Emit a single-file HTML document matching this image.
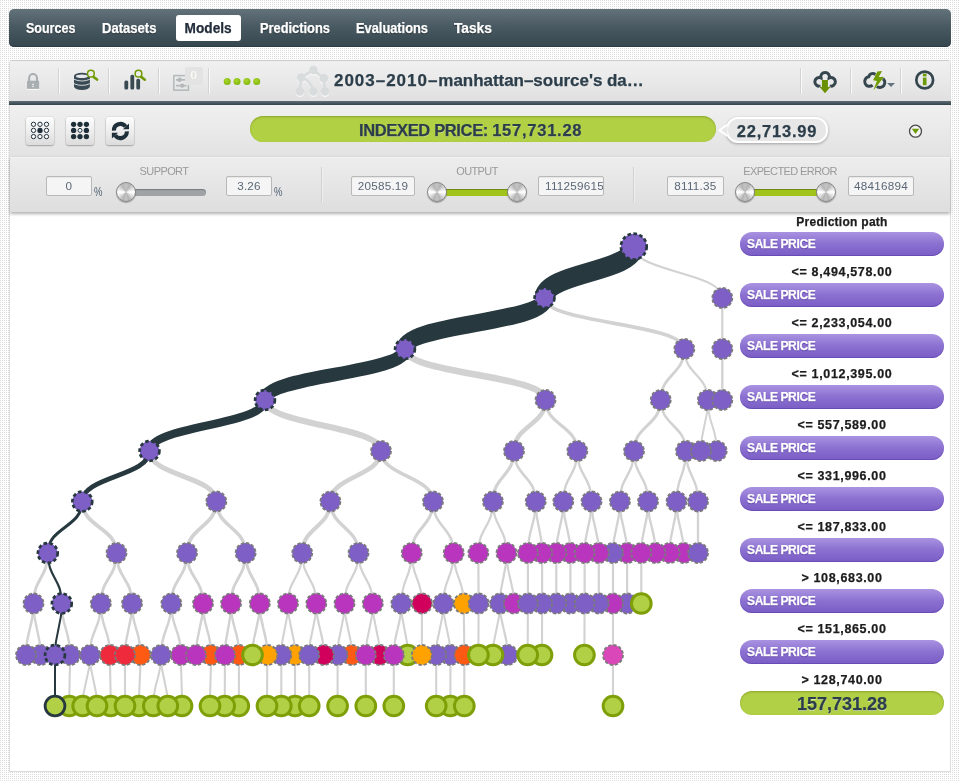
<!DOCTYPE html>
<html lang="en">
<head>
<meta charset="utf-8">
<title>2003-2010-manhattan-source's dataset model</title>
<style>
html,body{margin:0;padding:0}
body{width:959px;height:781px;overflow:hidden;position:relative;
  font-family:"Liberation Sans","DejaVu Sans",sans-serif;color:#2c3e4a;
  background-color:#fff;
  background-image:conic-gradient(from 270deg at 1px 1px,#dcdcdc 0 25%,#fff 0 100%);
  background-size:2px 2px;}
.abs{position:absolute}
#nav{position:absolute;left:9px;top:9px;width:942px;height:38px;border-radius:5px;
  background:linear-gradient(#63727a 0%,#4a5a63 45%,#36464f 100%);box-shadow:inset 0 -1px 0 #2b3b45}
#nav span{position:absolute;transform-origin:0 50%;top:11px;font-weight:bold;font-size:14px;color:#fff;line-height:16px;white-space:nowrap;text-shadow:0 1px 1px rgba(0,0,0,.5)}
#nav .act{top:6px;left:167px;width:65px;height:26px;background:#fff;border-radius:3px;color:#232d3b;text-shadow:none;text-align:center;line-height:26px}
#panel{position:absolute;left:9px;top:60px;width:940px;height:710px;background:#fff;border:1px solid #dddddd;border-top-color:#cbcbcb;border-radius:4px 4px 0 0}
#bar1{position:absolute;left:0;top:0;width:940px;height:40px;background:linear-gradient(#f0f0f0,#e9e9e9 50%,#e0e0e0);border-radius:3px 3px 0 0}
#line{position:absolute;left:-1px;top:40px;width:942px;height:4px;background:linear-gradient(#5f6e76,#33434c)}
#bar2{position:absolute;left:0;top:44px;width:940px;height:52px;background:linear-gradient(#f0f0f0,#e2e2e2)}
#bar3{position:absolute;left:0;top:96px;width:940px;height:55px;background:linear-gradient(#ededed,#dedede);box-shadow:inset 0 1px 0 #f3f3f3,0 -1px 0 #d9d9d9,0 2px 3px rgba(0,0,0,.3)}
.sep{position:absolute;top:7px;width:1px;height:26px;background:#d2d2d2;box-shadow:1px 0 0 #fafafa}
#title{position:absolute;left:324px;top:9px;font-size:17px;font-weight:bold;line-height:21px;color:#2c3e4a;white-space:nowrap;letter-spacing:0.28px}
.btn{position:absolute;top:12px;width:28px;height:28px;border-radius:3px;background:linear-gradient(#fdfdfd,#ececec 55%,#dcdcdc);box-shadow:0 0 0 0.6px rgba(0,0,0,.1),0 1px 1.5px rgba(0,0,0,.26)}
#gpill{position:absolute;left:240px;top:11px;width:466px;height:26px;border-radius:13px;background:#b1d044;box-shadow:inset 0 1px 2px rgba(90,110,10,.45);font-weight:bold;font-size:16.5px;letter-spacing:0.1px;line-height:28px;color:#2c3e4a;text-shadow:0 1px 0 rgba(255,255,255,.35);text-indent:109px;white-space:nowrap}
#bubble{position:absolute;left:716px;top:12px;width:98px;height:22px;border:2px solid #fff;border-radius:12px;background:#e7e7e7;box-shadow:0 1px 3px rgba(0,0,0,.3);text-align:center;font-weight:bold;font-size:16.5px;letter-spacing:0.8px;line-height:24.5px;color:#2c3e4a;white-space:nowrap}
.lab{position:absolute;top:7px;font-size:11px;letter-spacing:-0.6px;line-height:14px;color:#9a9a9a;white-space:nowrap;text-align:center}
.inp{position:absolute;top:19px;height:17.5px;border:1px solid #b9b9b9;border-radius:2px;background:#f5f5f5;box-shadow:inset 0 1px 1px rgba(0,0,0,.06);font-size:11.7px;line-height:17.5px;letter-spacing:0.25px;color:#5a6776;text-align:center;overflow:hidden;white-space:nowrap}
.pct{position:absolute;top:28px;font-size:12.5px;color:#4f6073;line-height:14px;transform:scaleX(.76);transform-origin:0 50%}
.track{position:absolute;top:32px;height:7px;border-radius:4px;background:#9fa3a6;box-shadow:inset 0 1px 1px rgba(0,0,0,.25)}
.track.g{background:#a0c41c;box-shadow:inset 0 1px 0 rgba(70,90,10,.55)}
.knob{position:absolute;top:25px;width:20px;height:20px;border-radius:50%;box-sizing:border-box;border:1px solid #858585;background:conic-gradient(from 0deg,#c4c4c4,#b4b4b4 8%,#fdfdfd 24%,#fdfdfd 27%,#b2b2b2 44%,#c6c6c6 50%,#b2b2b2 56%,#fdfdfd 73%,#fdfdfd 76%,#b4b4b4 92%,#c4c4c4);box-shadow:0 1px 1px rgba(0,0,0,.3)}
#side{position:absolute;left:730px;top:151px;width:204px}
#side .h{position:absolute;left:0;width:204px;text-align:center;font-weight:bold;font-size:12.5px;letter-spacing:0.65px;line-height:15px;color:#1c1c1c;white-space:nowrap}
#side .p{position:absolute;left:0;width:204px;height:24px;border-radius:12px;background:linear-gradient(#a993e1,#8b70d1 50%,#7a5dc5);box-shadow:inset 0 -1px 0 rgba(90,60,170,.55);color:#fff;font-weight:bold;font-size:12px;letter-spacing:-0.37px;line-height:25px;text-indent:7px;text-shadow:0 1px 1px rgba(70,40,140,.7)}
#side .g{position:absolute;left:0;width:204px;height:24px;border-radius:12px;background:#b2d045;box-shadow:inset 0 1px 2px rgba(90,110,10,.45);text-align:center;font-weight:bold;font-size:18px;line-height:27px;color:#2c3e4a;text-shadow:0 1px 0 rgba(255,255,255,.6)}
svg.tree{position:absolute;left:-10px;top:151px}
svg.ic{position:absolute;overflow:visible}
.vsep{position:absolute;top:10px;width:1px;height:35px;background:#d0d0d0;box-shadow:1px 0 0 #f0f0f0}
#badge{position:absolute;z-index:5;left:175px;top:6px;width:18px;height:17.5px;border-radius:2px;background:#e3e3e3;color:#fcfcf4;font-family:"Liberation Serif",serif;font-size:12.5px;line-height:16.5px;text-align:center;text-indent:-1px;-webkit-text-stroke:.2px #fcfcf4}
svg#icons{position:absolute;left:0;top:0;width:959px;height:781px;pointer-events:none}
#side .h,#side .p,#side .g,#gpill,#bubble,#title,#nav span{-webkit-text-stroke:.25px currentColor}

</style>
</head>
<body>
<div id="nav">
  <span style="left:17px;transform:scaleX(.893)">Sources</span>
  <span style="left:93px;transform:scaleX(.933)">Datasets</span>
  <span class="act"><b style="display:inline-block;transform:scaleX(.975)">Models</b></span>
  <span style="left:251px;transform:scaleX(.917)">Predictions</span>
  <span style="left:347px;transform:scaleX(.916)">Evaluations</span>
  <span style="left:445px;transform:scaleX(.98)">Tasks</span>
</div>
<div id="panel">
  <div id="bar1">
    <div class="sep" style="left:48px"></div>
    <div class="sep" style="left:98px"></div>
    <div class="sep" style="left:148px"></div>
    <div class="sep" style="left:198px"></div>
    <div class="sep" style="left:790px"></div>
    <div class="sep" style="left:840px"></div>
    <div class="sep" style="left:890px"></div>
    <div id="badge">0</div>
    <div id="title"><span style="letter-spacing:.98px">2003–2010–</span><span style="letter-spacing:-.04px">manhattan–source's da…</span></div>
  </div>
  <div id="line"></div>
  <div id="bar2">
    <div class="btn" style="left:16px"></div>
    <div class="btn" style="left:56px"></div>
    <div class="btn" style="left:96px"></div>
    <div id="gpill"><span style="letter-spacing:-.35px">INDEXED PRICE: </span><span style="letter-spacing:.75px">157,731.28</span></div>
    <div id="bubble">22,713.99</div>
  </div>
  <div id="bar3">
    <div class="inp" style="left:36px;width:44px">0</div><div class="pct" style="left:84px">%</div>
    <div class="lab" style="left:104px;width:100px">SUPPORT</div>
    <div class="track" style="left:116px;width:80px"></div>
    <div class="knob" style="left:106px"></div>
    <div class="inp" style="left:216px;width:44px">3.26</div><div class="pct" style="left:264px">%</div>
    <div class="vsep" style="left:311px"></div>
    <div class="inp" style="left:341px;width:62px">20585.19</div>
    <div class="lab" style="left:417px;width:100px">OUTPUT</div>
    <div class="track g" style="left:426px;width:81px"></div>
    <div class="knob" style="left:416.5px"></div>
    <div class="knob" style="left:497px"></div>
    <div class="inp" style="left:528px;width:64px;text-align:left;text-indent:6px">111259615.27</div>
    <div class="vsep" style="left:623px"></div>
    <div class="inp" style="left:657px;width:55px">8111.35</div>
    <div class="lab" style="left:730px;width:100px">EXPECTED ERROR</div>
    <div class="track g" style="left:735px;width:81px"></div>
    <div class="knob" style="left:725px"></div>
    <div class="knob" style="left:806px"></div>
    <div class="inp" style="left:838px;width:64px">48416894</div>
  </div>
  <svg class="tree" width="740" height="560" viewBox="0 212 740 560">
<g fill="none" stroke="#d2d2d2" stroke-linecap="butt">
<path d="M633.8,246.6C633.8,272.2 722.3,272.2 722.3,297.9" stroke-width="2.1"/>
<path d="M544.5,297.9C544.5,323.4 684.3,323.4 684.3,349.0" stroke-width="3.6"/>
<path d="M722.3,297.9C722.3,323.4 722.3,323.4 722.3,349.0" stroke-width="2.2"/>
<path d="M405.0,349.0C405.0,374.5 545.5,374.5 545.5,400.0" stroke-width="6.5"/>
<path d="M684.3,349.0C684.3,374.5 660.7,374.5 660.7,400.0" stroke-width="2.8"/>
<path d="M684.3,349.0C684.3,374.5 707.8,374.5 707.8,400.0" stroke-width="2.2"/>
<path d="M722.3,349.0C722.3,374.5 722.3,374.5 722.3,400.0" stroke-width="2.4"/>
<path d="M265.0,400.0C265.0,425.5 381.0,425.5 381.0,451.0" stroke-width="6"/>
<path d="M545.5,400.0C545.5,425.5 514.0,425.5 514.0,451.0" stroke-width="4.5"/>
<path d="M545.5,400.0C545.5,425.5 577.3,425.5 577.3,451.0" stroke-width="3.2"/>
<path d="M660.7,400.0C660.7,425.5 634.0,425.5 634.0,451.0" stroke-width="3"/>
<path d="M660.7,400.0C660.7,425.5 686.0,425.5 686.0,451.0" stroke-width="2.5"/>
<path d="M707.8,400.0C707.8,425.5 701.0,425.5 701.0,451.0" stroke-width="2"/>
<path d="M707.8,400.0C707.8,425.5 716.7,425.5 716.7,451.0" stroke-width="2"/>
<path d="M149.5,451.0C149.5,476.2 216.3,476.2 216.3,501.5" stroke-width="5"/>
<path d="M381.0,451.0C381.0,476.2 330.4,476.2 330.4,501.5" stroke-width="4.6"/>
<path d="M381.0,451.0C381.0,476.2 433.0,476.2 433.0,501.5" stroke-width="3.6"/>
<path d="M514.0,451.0C514.0,476.2 492.9,476.2 492.9,501.5" stroke-width="3.2"/>
<path d="M514.0,451.0C514.0,476.2 535.7,476.2 535.7,501.5" stroke-width="2.6"/>
<path d="M577.3,451.0C577.3,476.2 563.3,476.2 563.3,501.5" stroke-width="2.4"/>
<path d="M577.3,451.0C577.3,476.2 591.5,476.2 591.5,501.5" stroke-width="2.4"/>
<path d="M634.0,451.0C634.0,476.2 619.9,476.2 619.9,501.5" stroke-width="2.4"/>
<path d="M634.0,451.0C634.0,476.2 648.0,476.2 648.0,501.5" stroke-width="2.4"/>
<path d="M686.0,451.0C686.0,476.2 676.5,476.2 676.5,501.5" stroke-width="2.4"/>
<path d="M686.0,451.0C686.0,476.2 698.0,476.2 698.0,501.5" stroke-width="2.4"/>
<path d="M82.3,501.5C82.3,527.2 116.5,527.2 116.5,553.0" stroke-width="3.8"/>
<path d="M216.3,501.5C216.3,527.2 187.0,527.2 187.0,553.0" stroke-width="3.8"/>
<path d="M216.3,501.5C216.3,527.2 245.6,527.2 245.6,553.0" stroke-width="3.5"/>
<path d="M330.4,501.5C330.4,527.2 302.2,527.2 302.2,553.0" stroke-width="4"/>
<path d="M330.4,501.5C330.4,527.2 358.5,527.2 358.5,553.0" stroke-width="3.3"/>
<path d="M433.0,501.5C433.0,527.2 411.7,527.2 411.7,553.0" stroke-width="3"/>
<path d="M433.0,501.5C433.0,527.2 453.7,527.2 453.7,553.0" stroke-width="2.6"/>
<path d="M492.9,501.5C492.9,527.2 478.3,527.2 478.3,553.0" stroke-width="2.3"/>
<path d="M492.9,501.5C492.9,527.2 506.5,527.2 506.5,553.0" stroke-width="2.3"/>
<path d="M535.7,501.5C535.7,527.2 527.9,527.2 527.9,553.0" stroke-width="2.3"/>
<path d="M535.7,501.5C535.7,527.2 542.1,527.2 542.1,553.0" stroke-width="2.3"/>
<path d="M563.3,501.5C563.3,527.2 556.3,527.2 556.3,553.0" stroke-width="2.3"/>
<path d="M563.3,501.5C563.3,527.2 570.4,527.2 570.4,553.0" stroke-width="2.3"/>
<path d="M591.5,501.5C591.5,527.2 584.6,527.2 584.6,553.0" stroke-width="2.3"/>
<path d="M591.5,501.5C591.5,527.2 598.8,527.2 598.8,553.0" stroke-width="2.3"/>
<path d="M619.9,501.5C619.9,527.2 613.0,527.2 613.0,553.0" stroke-width="2.3"/>
<path d="M619.9,501.5C619.9,527.2 627.1,527.2 627.1,553.0" stroke-width="2.3"/>
<path d="M648.0,501.5C648.0,527.2 641.3,527.2 641.3,553.0" stroke-width="2.3"/>
<path d="M648.0,501.5C648.0,527.2 655.5,527.2 655.5,553.0" stroke-width="2.3"/>
<path d="M676.5,501.5C676.5,527.2 669.6,527.2 669.6,553.0" stroke-width="2.3"/>
<path d="M676.5,501.5C676.5,527.2 683.8,527.2 683.8,553.0" stroke-width="2.3"/>
<path d="M698.0,501.5C698.0,527.2 698.0,527.2 698.0,553.0" stroke-width="2.3"/>
<path d="M47.8,553.0C47.8,578.2 33.5,578.2 33.5,603.5" stroke-width="2.9000000000000004"/>
<path d="M116.5,553.0C116.5,578.2 100.8,578.2 100.8,603.5" stroke-width="2.9000000000000004"/>
<path d="M116.5,553.0C116.5,578.2 132.0,578.2 132.0,603.5" stroke-width="2.9000000000000004"/>
<path d="M187.0,553.0C187.0,578.2 171.3,578.2 171.3,603.5" stroke-width="2.9000000000000004"/>
<path d="M187.0,553.0C187.0,578.2 203.0,578.2 203.0,603.5" stroke-width="2.9000000000000004"/>
<path d="M245.6,553.0C245.6,578.2 231.0,578.2 231.0,603.5" stroke-width="2.9000000000000004"/>
<path d="M245.6,553.0C245.6,578.2 259.8,578.2 259.8,603.5" stroke-width="2.9000000000000004"/>
<path d="M302.2,553.0C302.2,578.2 288.0,578.2 288.0,603.5" stroke-width="2.2"/>
<path d="M302.2,553.0C302.2,578.2 316.3,578.2 316.3,603.5" stroke-width="2.2"/>
<path d="M358.5,553.0C358.5,578.2 344.5,578.2 344.5,603.5" stroke-width="2.2"/>
<path d="M358.5,553.0C358.5,578.2 372.8,578.2 372.8,603.5" stroke-width="2.2"/>
<path d="M411.7,553.0C411.7,578.2 401.3,578.2 401.3,603.5" stroke-width="2.2"/>
<path d="M411.7,553.0C411.7,578.2 422.0,578.2 422.0,603.5" stroke-width="2.2"/>
<path d="M453.7,553.0C453.7,578.2 443.3,578.2 443.3,603.5" stroke-width="2.2"/>
<path d="M453.7,553.0C453.7,578.2 463.8,578.2 463.8,603.5" stroke-width="2.2"/>
<path d="M478.3,553.0C478.3,578.2 478.6,578.2 478.6,603.5" stroke-width="2.2"/>
<path d="M506.5,553.0C506.5,578.2 500.0,578.2 500.0,603.5" stroke-width="2.2"/>
<path d="M506.5,553.0C506.5,578.2 513.8,578.2 513.8,603.5" stroke-width="2.2"/>
<path d="M527.9,553.0C527.9,578.2 527.9,578.2 527.9,603.5" stroke-width="2.2"/>
<path d="M542.1,553.0C542.1,578.2 542.1,578.2 542.1,603.5" stroke-width="2.2"/>
<path d="M556.3,553.0C556.3,578.2 556.3,578.2 556.3,603.5" stroke-width="2.2"/>
<path d="M570.4,553.0C570.4,578.2 570.4,578.2 570.4,603.5" stroke-width="2.2"/>
<path d="M584.6,553.0C584.6,578.2 584.6,578.2 584.6,603.5" stroke-width="2.2"/>
<path d="M598.8,553.0C598.8,578.2 598.8,578.2 598.8,603.5" stroke-width="2.2"/>
<path d="M613.0,553.0C613.0,578.2 613.0,578.2 613.0,603.5" stroke-width="2.2"/>
<path d="M627.1,553.0C627.1,578.2 627.1,578.2 627.1,603.5" stroke-width="2.2"/>
<path d="M641.3,553.0C641.3,578.2 641.3,578.2 641.3,603.5" stroke-width="2.2"/>
<path d="M33.5,603.5C33.5,629.2 26.0,629.2 26.0,655.0" stroke-width="2.4"/>
<path d="M33.5,603.5C33.5,629.2 40.5,629.2 40.5,655.0" stroke-width="2.4"/>
<path d="M61.8,603.5C61.8,629.2 70.0,629.2 70.0,655.0" stroke-width="2.4"/>
<path d="M100.8,603.5C100.8,629.2 90.0,629.2 90.0,655.0" stroke-width="2.4"/>
<path d="M100.8,603.5C100.8,629.2 110.0,629.2 110.0,655.0" stroke-width="2.4"/>
<path d="M132.0,603.5C132.0,629.2 125.0,629.2 125.0,655.0" stroke-width="2.4"/>
<path d="M132.0,603.5C132.0,629.2 140.5,629.2 140.5,655.0" stroke-width="2.4"/>
<path d="M171.3,603.5C171.3,629.2 161.0,629.2 161.0,655.0" stroke-width="2.4"/>
<path d="M171.3,603.5C171.3,629.2 181.0,629.2 181.0,655.0" stroke-width="2.4"/>
<path d="M203.0,603.5C203.0,629.2 196.0,629.2 196.0,655.0" stroke-width="2.4"/>
<path d="M203.0,603.5C203.0,629.2 211.0,629.2 211.0,655.0" stroke-width="2.4"/>
<path d="M231.0,603.5C231.0,629.2 225.0,629.2 225.0,655.0" stroke-width="2.4"/>
<path d="M231.0,603.5C231.0,629.2 239.0,629.2 239.0,655.0" stroke-width="2.4"/>
<path d="M259.8,603.5C259.8,629.2 252.5,629.2 252.5,655.0" stroke-width="2.4"/>
<path d="M259.8,603.5C259.8,629.2 267.3,629.2 267.3,655.0" stroke-width="2.4"/>
<path d="M288.0,603.5C288.0,629.2 281.3,629.2 281.3,655.0" stroke-width="2.1"/>
<path d="M288.0,603.5C288.0,629.2 295.0,629.2 295.0,655.0" stroke-width="2.1"/>
<path d="M316.3,603.5C316.3,629.2 309.2,629.2 309.2,655.0" stroke-width="2.1"/>
<path d="M316.3,603.5C316.3,629.2 323.8,629.2 323.8,655.0" stroke-width="2.1"/>
<path d="M344.5,603.5C344.5,629.2 337.6,629.2 337.6,655.0" stroke-width="2.1"/>
<path d="M344.5,603.5C344.5,629.2 351.8,629.2 351.8,655.0" stroke-width="2.1"/>
<path d="M372.8,603.5C372.8,629.2 365.8,629.2 365.8,655.0" stroke-width="2.1"/>
<path d="M372.8,603.5C372.8,629.2 379.7,629.2 379.7,655.0" stroke-width="2.1"/>
<path d="M401.3,603.5C401.3,629.2 393.8,629.2 393.8,655.0" stroke-width="2.1"/>
<path d="M401.3,603.5C401.3,629.2 407.7,629.2 407.7,655.0" stroke-width="2.1"/>
<path d="M422.0,603.5C422.0,629.2 421.8,629.2 421.8,655.0" stroke-width="2.1"/>
<path d="M443.3,603.5C443.3,629.2 436.2,629.2 436.2,655.0" stroke-width="2.1"/>
<path d="M443.3,603.5C443.3,629.2 450.4,629.2 450.4,655.0" stroke-width="2.1"/>
<path d="M463.8,603.5C463.8,629.2 464.3,629.2 464.3,655.0" stroke-width="2.1"/>
<path d="M478.6,603.5C478.6,629.2 478.4,629.2 478.4,655.0" stroke-width="2.1"/>
<path d="M500.0,603.5C500.0,629.2 493.0,629.2 493.0,655.0" stroke-width="2.1"/>
<path d="M500.0,603.5C500.0,629.2 507.5,629.2 507.5,655.0" stroke-width="2.1"/>
<path d="M527.9,603.5C527.9,629.2 527.7,629.2 527.7,655.0" stroke-width="2.1"/>
<path d="M542.1,603.5C542.1,629.2 542.0,629.2 542.0,655.0" stroke-width="2.1"/>
<path d="M584.6,603.5C584.6,629.2 584.4,629.2 584.4,655.0" stroke-width="2.1"/>
<path d="M613.0,603.5C613.0,629.2 613.0,629.2 613.0,655.0" stroke-width="2.1"/>
<path d="M70.0,655.0C70.0,680.5 69.3,680.5 69.3,706.0" stroke-width="2.1"/>
<path d="M90.0,655.0C90.0,680.5 82.7,680.5 82.7,706.0" stroke-width="2.1"/>
<path d="M90.0,655.0C90.0,680.5 97.0,680.5 97.0,706.0" stroke-width="2.1"/>
<path d="M110.0,655.0C110.0,680.5 110.7,680.5 110.7,706.0" stroke-width="2.1"/>
<path d="M125.0,655.0C125.0,680.5 125.0,680.5 125.0,706.0" stroke-width="2.1"/>
<path d="M140.5,655.0C140.5,680.5 139.0,680.5 139.0,706.0" stroke-width="2.1"/>
<path d="M161.0,655.0C161.0,680.5 153.3,680.5 153.3,706.0" stroke-width="2.1"/>
<path d="M161.0,655.0C161.0,680.5 167.8,680.5 167.8,706.0" stroke-width="2.1"/>
<path d="M181.0,655.0C181.0,680.5 182.0,680.5 182.0,706.0" stroke-width="2.1"/>
<path d="M211.0,655.0C211.0,680.5 210.0,680.5 210.0,706.0" stroke-width="2.1"/>
<path d="M225.0,655.0C225.0,680.5 224.7,680.5 224.7,706.0" stroke-width="2.1"/>
<path d="M239.0,655.0C239.0,680.5 238.8,680.5 238.8,706.0" stroke-width="2.1"/>
<path d="M267.3,655.0C267.3,680.5 267.0,680.5 267.0,706.0" stroke-width="2.1"/>
<path d="M281.3,655.0C281.3,680.5 281.3,680.5 281.3,706.0" stroke-width="2.1"/>
<path d="M295.0,655.0C295.0,680.5 295.0,680.5 295.0,706.0" stroke-width="2.1"/>
<path d="M309.2,655.0C309.2,680.5 309.2,680.5 309.2,706.0" stroke-width="2.1"/>
<path d="M337.6,655.0C337.6,680.5 337.6,680.5 337.6,706.0" stroke-width="2.1"/>
<path d="M365.8,655.0C365.8,680.5 365.8,680.5 365.8,706.0" stroke-width="2.1"/>
<path d="M393.8,655.0C393.8,680.5 393.8,680.5 393.8,706.0" stroke-width="2.1"/>
<path d="M436.2,655.0C436.2,680.5 436.2,680.5 436.2,706.0" stroke-width="2.1"/>
<path d="M450.4,655.0C450.4,680.5 450.4,680.5 450.4,706.0" stroke-width="2.1"/>
<path d="M464.3,655.0C464.3,680.5 464.3,680.5 464.3,706.0" stroke-width="2.1"/>
<path d="M613.0,655.0C613.0,680.5 613.0,680.5 613.0,706.0" stroke-width="2.1"/>
</g>
<g fill="none" stroke="#27383f">
<path d="M633.8,246.6C633.8,272.2 544.5,272.2 544.5,297.9" stroke-width="19.7"/>
<path d="M544.5,297.9C544.5,323.4 405.0,323.4 405.0,349.0" stroke-width="17.5"/>
<path d="M405.0,349.0C405.0,374.5 265.0,374.5 265.0,400.0" stroke-width="13.5"/>
<path d="M265.0,400.0C265.0,425.5 149.5,425.5 149.5,451.0" stroke-width="8.2"/>
<path d="M149.5,451.0C149.5,476.2 82.3,476.2 82.3,501.5" stroke-width="4.8"/>
<path d="M82.3,501.5C82.3,527.2 47.8,527.2 47.8,553.0" stroke-width="3"/>
<path d="M47.8,553.0C47.8,578.2 61.8,578.2 61.8,603.5" stroke-width="2.2"/>
<path d="M61.8,603.5C61.8,629.2 55.0,629.2 55.0,655.0" stroke-width="2"/>
<path d="M55.0,655.0C55.0,680.5 55.0,680.5 55.0,706.0" stroke-width="2"/>
</g>
<circle cx="633.8" cy="246.6" r="12.9" fill="#7d5fc6" stroke="#27383f" stroke-width="2.7" stroke-dasharray="3.6,2.4"/>
<circle cx="722.3" cy="297.9" r="10" fill="#7d5fc6" stroke="#7a7a7a" stroke-width="1.8" stroke-dasharray="3.3,1.94"/>
<circle cx="544.5" cy="297.9" r="9.9" fill="#7d5fc6" stroke="#27383f" stroke-width="2.7" stroke-dasharray="3.6,2.4"/>
<circle cx="684.3" cy="349" r="10" fill="#7d5fc6" stroke="#7a7a7a" stroke-width="1.8" stroke-dasharray="3.3,1.94"/>
<circle cx="722.3" cy="349" r="10" fill="#7d5fc6" stroke="#7a7a7a" stroke-width="1.8" stroke-dasharray="3.3,1.94"/>
<circle cx="405" cy="349" r="9.9" fill="#7d5fc6" stroke="#27383f" stroke-width="2.7" stroke-dasharray="3.6,2.4"/>
<circle cx="545.5" cy="400" r="10" fill="#7d5fc6" stroke="#7a7a7a" stroke-width="1.8" stroke-dasharray="3.3,1.94"/>
<circle cx="660.7" cy="400" r="10" fill="#7d5fc6" stroke="#7a7a7a" stroke-width="1.8" stroke-dasharray="3.3,1.94"/>
<circle cx="707.8" cy="400" r="10" fill="#7d5fc6" stroke="#7a7a7a" stroke-width="1.8" stroke-dasharray="3.3,1.94"/>
<circle cx="722.3" cy="400" r="10" fill="#7d5fc6" stroke="#7a7a7a" stroke-width="1.8" stroke-dasharray="3.3,1.94"/>
<circle cx="265" cy="400" r="9.9" fill="#7d5fc6" stroke="#27383f" stroke-width="2.7" stroke-dasharray="3.6,2.4"/>
<circle cx="381" cy="451" r="10" fill="#7d5fc6" stroke="#7a7a7a" stroke-width="1.8" stroke-dasharray="3.3,1.94"/>
<circle cx="514" cy="451" r="10" fill="#7d5fc6" stroke="#7a7a7a" stroke-width="1.8" stroke-dasharray="3.3,1.94"/>
<circle cx="577.3" cy="451" r="10" fill="#7d5fc6" stroke="#7a7a7a" stroke-width="1.8" stroke-dasharray="3.3,1.94"/>
<circle cx="634" cy="451" r="10" fill="#7d5fc6" stroke="#7a7a7a" stroke-width="1.8" stroke-dasharray="3.3,1.94"/>
<circle cx="686" cy="451" r="10" fill="#7d5fc6" stroke="#7a7a7a" stroke-width="1.8" stroke-dasharray="3.3,1.94"/>
<circle cx="716.7" cy="451" r="10" fill="#7d5fc6" stroke="#7a7a7a" stroke-width="1.8" stroke-dasharray="3.3,1.94"/>
<circle cx="701" cy="451" r="10" fill="#7d5fc6" stroke="#7a7a7a" stroke-width="1.8" stroke-dasharray="3.3,1.94"/>
<circle cx="149.5" cy="451" r="9.9" fill="#7d5fc6" stroke="#27383f" stroke-width="2.7" stroke-dasharray="3.6,2.4"/>
<circle cx="216.3" cy="501.5" r="10" fill="#7d5fc6" stroke="#7a7a7a" stroke-width="1.8" stroke-dasharray="3.3,1.94"/>
<circle cx="330.4" cy="501.5" r="10" fill="#7d5fc6" stroke="#7a7a7a" stroke-width="1.8" stroke-dasharray="3.3,1.94"/>
<circle cx="433" cy="501.5" r="10" fill="#7d5fc6" stroke="#7a7a7a" stroke-width="1.8" stroke-dasharray="3.3,1.94"/>
<circle cx="492.9" cy="501.5" r="10" fill="#7d5fc6" stroke="#7a7a7a" stroke-width="1.8" stroke-dasharray="3.3,1.94"/>
<circle cx="535.7" cy="501.5" r="10" fill="#7d5fc6" stroke="#7a7a7a" stroke-width="1.8" stroke-dasharray="3.3,1.94"/>
<circle cx="563.3" cy="501.5" r="10" fill="#7d5fc6" stroke="#7a7a7a" stroke-width="1.8" stroke-dasharray="3.3,1.94"/>
<circle cx="591.5" cy="501.5" r="10" fill="#7d5fc6" stroke="#7a7a7a" stroke-width="1.8" stroke-dasharray="3.3,1.94"/>
<circle cx="619.9" cy="501.5" r="10" fill="#7d5fc6" stroke="#7a7a7a" stroke-width="1.8" stroke-dasharray="3.3,1.94"/>
<circle cx="648" cy="501.5" r="10" fill="#7d5fc6" stroke="#7a7a7a" stroke-width="1.8" stroke-dasharray="3.3,1.94"/>
<circle cx="676.5" cy="501.5" r="10" fill="#7d5fc6" stroke="#7a7a7a" stroke-width="1.8" stroke-dasharray="3.3,1.94"/>
<circle cx="698" cy="501.5" r="10" fill="#7d5fc6" stroke="#7a7a7a" stroke-width="1.8" stroke-dasharray="3.3,1.94"/>
<circle cx="82.3" cy="501.5" r="9.9" fill="#7d5fc6" stroke="#27383f" stroke-width="2.7" stroke-dasharray="3.6,2.4"/>
<circle cx="116.5" cy="553" r="10" fill="#7d5fc6" stroke="#7a7a7a" stroke-width="1.8" stroke-dasharray="3.3,1.94"/>
<circle cx="187" cy="553" r="10" fill="#7d5fc6" stroke="#7a7a7a" stroke-width="1.8" stroke-dasharray="3.3,1.94"/>
<circle cx="245.6" cy="553" r="10" fill="#7d5fc6" stroke="#7a7a7a" stroke-width="1.8" stroke-dasharray="3.3,1.94"/>
<circle cx="302.2" cy="553" r="10" fill="#7d5fc6" stroke="#7a7a7a" stroke-width="1.8" stroke-dasharray="3.3,1.94"/>
<circle cx="358.5" cy="553" r="10" fill="#7d5fc6" stroke="#7a7a7a" stroke-width="1.8" stroke-dasharray="3.3,1.94"/>
<circle cx="411.7" cy="553" r="10" fill="#b935bd" stroke="#7a7a7a" stroke-width="1.8" stroke-dasharray="3.3,1.94"/>
<circle cx="453.7" cy="553" r="10" fill="#b935bd" stroke="#7a7a7a" stroke-width="1.8" stroke-dasharray="3.3,1.94"/>
<circle cx="478.3" cy="553" r="10" fill="#b935bd" stroke="#7a7a7a" stroke-width="1.8" stroke-dasharray="3.3,1.94"/>
<circle cx="506.5" cy="553" r="10" fill="#b935bd" stroke="#7a7a7a" stroke-width="1.8" stroke-dasharray="3.3,1.94"/>
<circle cx="570.4" cy="553" r="10" fill="#b935bd" stroke="#7a7a7a" stroke-width="1.8" stroke-dasharray="3.3,1.94"/>
<circle cx="627.1" cy="553" r="10" fill="#b935bd" stroke="#7a7a7a" stroke-width="1.8" stroke-dasharray="3.3,1.94"/>
<circle cx="683.8" cy="553" r="10" fill="#b935bd" stroke="#7a7a7a" stroke-width="1.8" stroke-dasharray="3.3,1.94"/>
<circle cx="556.3" cy="553" r="10" fill="#b935bd" stroke="#7a7a7a" stroke-width="1.8" stroke-dasharray="3.3,1.94"/>
<circle cx="613.0" cy="553" r="10" fill="#7d5fc6" stroke="#7a7a7a" stroke-width="1.8" stroke-dasharray="3.3,1.94"/>
<circle cx="669.6" cy="553" r="10" fill="#b935bd" stroke="#7a7a7a" stroke-width="1.8" stroke-dasharray="3.3,1.94"/>
<circle cx="542.1" cy="553" r="10" fill="#b935bd" stroke="#7a7a7a" stroke-width="1.8" stroke-dasharray="3.3,1.94"/>
<circle cx="598.8" cy="553" r="10" fill="#b935bd" stroke="#7a7a7a" stroke-width="1.8" stroke-dasharray="3.3,1.94"/>
<circle cx="655.5" cy="553" r="10" fill="#b935bd" stroke="#7a7a7a" stroke-width="1.8" stroke-dasharray="3.3,1.94"/>
<circle cx="527.9" cy="553" r="10" fill="#b935bd" stroke="#7a7a7a" stroke-width="1.8" stroke-dasharray="3.3,1.94"/>
<circle cx="584.6" cy="553" r="10" fill="#b935bd" stroke="#7a7a7a" stroke-width="1.8" stroke-dasharray="3.3,1.94"/>
<circle cx="641.3" cy="553" r="10" fill="#b935bd" stroke="#7a7a7a" stroke-width="1.8" stroke-dasharray="3.3,1.94"/>
<circle cx="698" cy="553" r="10" fill="#7d5fc6" stroke="#7a7a7a" stroke-width="1.8" stroke-dasharray="3.3,1.94"/>
<circle cx="47.8" cy="553" r="9.9" fill="#7d5fc6" stroke="#27383f" stroke-width="2.7" stroke-dasharray="3.6,2.4"/>
<circle cx="33.5" cy="603.5" r="10" fill="#7d5fc6" stroke="#7a7a7a" stroke-width="1.8" stroke-dasharray="3.3,1.94"/>
<circle cx="100.8" cy="603.5" r="10" fill="#7d5fc6" stroke="#7a7a7a" stroke-width="1.8" stroke-dasharray="3.3,1.94"/>
<circle cx="132" cy="603.5" r="10" fill="#7d5fc6" stroke="#7a7a7a" stroke-width="1.8" stroke-dasharray="3.3,1.94"/>
<circle cx="171.3" cy="603.5" r="10" fill="#7d5fc6" stroke="#7a7a7a" stroke-width="1.8" stroke-dasharray="3.3,1.94"/>
<circle cx="203" cy="603.5" r="10" fill="#b935bd" stroke="#7a7a7a" stroke-width="1.8" stroke-dasharray="3.3,1.94"/>
<circle cx="231" cy="603.5" r="10" fill="#b935bd" stroke="#7a7a7a" stroke-width="1.8" stroke-dasharray="3.3,1.94"/>
<circle cx="259.8" cy="603.5" r="10" fill="#b935bd" stroke="#7a7a7a" stroke-width="1.8" stroke-dasharray="3.3,1.94"/>
<circle cx="288" cy="603.5" r="10" fill="#b935bd" stroke="#7a7a7a" stroke-width="1.8" stroke-dasharray="3.3,1.94"/>
<circle cx="316.3" cy="603.5" r="10" fill="#b935bd" stroke="#7a7a7a" stroke-width="1.8" stroke-dasharray="3.3,1.94"/>
<circle cx="344.5" cy="603.5" r="10" fill="#b935bd" stroke="#7a7a7a" stroke-width="1.8" stroke-dasharray="3.3,1.94"/>
<circle cx="372.8" cy="603.5" r="10" fill="#b935bd" stroke="#7a7a7a" stroke-width="1.8" stroke-dasharray="3.3,1.94"/>
<circle cx="422" cy="603.5" r="10" fill="#d0005c" stroke="#7a7a7a" stroke-width="1.8" stroke-dasharray="3.3,1.94"/>
<circle cx="463.8" cy="603.5" r="10" fill="#ffa200" stroke="#7a7a7a" stroke-width="1.8" stroke-dasharray="3.3,1.94"/>
<circle cx="500" cy="603.5" r="10" fill="#7d5fc6" stroke="#7a7a7a" stroke-width="1.8" stroke-dasharray="3.3,1.94"/>
<circle cx="401.3" cy="603.5" r="10" fill="#7d5fc6" stroke="#7a7a7a" stroke-width="1.8" stroke-dasharray="3.3,1.94"/>
<circle cx="443.3" cy="603.5" r="10" fill="#7d5fc6" stroke="#7a7a7a" stroke-width="1.8" stroke-dasharray="3.3,1.94"/>
<circle cx="478.6" cy="603.5" r="10" fill="#7d5fc6" stroke="#7a7a7a" stroke-width="1.8" stroke-dasharray="3.3,1.94"/>
<circle cx="513.8" cy="603.5" r="10" fill="#b935bd" stroke="#7a7a7a" stroke-width="1.8" stroke-dasharray="3.3,1.94"/>
<circle cx="570.4" cy="603.5" r="10" fill="#7d5fc6" stroke="#7a7a7a" stroke-width="1.8" stroke-dasharray="3.3,1.94"/>
<circle cx="627.1" cy="603.5" r="10" fill="#7d5fc6" stroke="#7a7a7a" stroke-width="1.8" stroke-dasharray="3.3,1.94"/>
<circle cx="556.3" cy="603.5" r="10" fill="#7d5fc6" stroke="#7a7a7a" stroke-width="1.8" stroke-dasharray="3.3,1.94"/>
<circle cx="613.0" cy="603.5" r="10" fill="#b935bd" stroke="#7a7a7a" stroke-width="1.8" stroke-dasharray="3.3,1.94"/>
<circle cx="542.1" cy="603.5" r="10" fill="#7d5fc6" stroke="#7a7a7a" stroke-width="1.8" stroke-dasharray="3.3,1.94"/>
<circle cx="598.8" cy="603.5" r="10" fill="#7d5fc6" stroke="#7a7a7a" stroke-width="1.8" stroke-dasharray="3.3,1.94"/>
<circle cx="527.9" cy="603.5" r="10" fill="#7d5fc6" stroke="#7a7a7a" stroke-width="1.8" stroke-dasharray="3.3,1.94"/>
<circle cx="584.6" cy="603.5" r="10" fill="#7d5fc6" stroke="#7a7a7a" stroke-width="1.8" stroke-dasharray="3.3,1.94"/>
<circle cx="641.3" cy="603.5" r="9.85" fill="#b2d045" stroke="#7f9f08" stroke-width="3"/>
<circle cx="61.8" cy="603.5" r="9.9" fill="#7d5fc6" stroke="#27383f" stroke-width="2.7" stroke-dasharray="3.6,2.4"/>
<circle cx="40.5" cy="655" r="10" fill="#7d5fc6" stroke="#7a7a7a" stroke-width="1.8" stroke-dasharray="3.3,1.94"/>
<circle cx="140.5" cy="655" r="10" fill="#ff5a14" stroke="#7a7a7a" stroke-width="1.8" stroke-dasharray="3.3,1.94"/>
<circle cx="181" cy="655" r="10" fill="#b935bd" stroke="#7a7a7a" stroke-width="1.8" stroke-dasharray="3.3,1.94"/>
<circle cx="211" cy="655" r="10" fill="#ff5a14" stroke="#7a7a7a" stroke-width="1.8" stroke-dasharray="3.3,1.94"/>
<circle cx="239" cy="655" r="10" fill="#ff5a14" stroke="#7a7a7a" stroke-width="1.8" stroke-dasharray="3.3,1.94"/>
<circle cx="295" cy="655" r="10" fill="#ffa200" stroke="#7a7a7a" stroke-width="1.8" stroke-dasharray="3.3,1.94"/>
<circle cx="351.8" cy="655" r="10" fill="#ff5a14" stroke="#7a7a7a" stroke-width="1.8" stroke-dasharray="3.3,1.94"/>
<circle cx="379.7" cy="655" r="10" fill="#d0005c" stroke="#7a7a7a" stroke-width="1.8" stroke-dasharray="3.3,1.94"/>
<circle cx="407.7" cy="655" r="9.85" fill="#b2d045" stroke="#7f9f08" stroke-width="3"/>
<circle cx="450.4" cy="655" r="10" fill="#7d5fc6" stroke="#7a7a7a" stroke-width="1.8" stroke-dasharray="3.3,1.94"/>
<circle cx="507.5" cy="655" r="10" fill="#7d5fc6" stroke="#7a7a7a" stroke-width="1.8" stroke-dasharray="3.3,1.94"/>
<circle cx="613" cy="655" r="10" fill="#da47b8" stroke="#7a7a7a" stroke-width="1.8" stroke-dasharray="3.3,1.94"/>
<circle cx="70" cy="655" r="10" fill="#7d5fc6" stroke="#7a7a7a" stroke-width="1.8" stroke-dasharray="3.3,1.94"/>
<circle cx="110" cy="655" r="10" fill="#ee2a3c" stroke="#7a7a7a" stroke-width="1.8" stroke-dasharray="3.3,1.94"/>
<circle cx="225" cy="655" r="10" fill="#b935bd" stroke="#7a7a7a" stroke-width="1.8" stroke-dasharray="3.3,1.94"/>
<circle cx="337.6" cy="655" r="10" fill="#7d5fc6" stroke="#7a7a7a" stroke-width="1.8" stroke-dasharray="3.3,1.94"/>
<circle cx="436.2" cy="655" r="10" fill="#7d5fc6" stroke="#7a7a7a" stroke-width="1.8" stroke-dasharray="3.3,1.94"/>
<circle cx="464.3" cy="655" r="10" fill="#ff5a14" stroke="#7a7a7a" stroke-width="1.8" stroke-dasharray="3.3,1.94"/>
<circle cx="26" cy="655" r="10" fill="#7d5fc6" stroke="#7a7a7a" stroke-width="1.8" stroke-dasharray="3.3,1.94"/>
<circle cx="90" cy="655" r="10" fill="#7d5fc6" stroke="#7a7a7a" stroke-width="1.8" stroke-dasharray="3.3,1.94"/>
<circle cx="125" cy="655" r="10" fill="#ee2a3c" stroke="#7a7a7a" stroke-width="1.8" stroke-dasharray="3.3,1.94"/>
<circle cx="161" cy="655" r="10" fill="#7d5fc6" stroke="#7a7a7a" stroke-width="1.8" stroke-dasharray="3.3,1.94"/>
<circle cx="196" cy="655" r="10" fill="#b935bd" stroke="#7a7a7a" stroke-width="1.8" stroke-dasharray="3.3,1.94"/>
<circle cx="281.3" cy="655" r="10" fill="#7d5fc6" stroke="#7a7a7a" stroke-width="1.8" stroke-dasharray="3.3,1.94"/>
<circle cx="323.8" cy="655" r="10" fill="#d0005c" stroke="#7a7a7a" stroke-width="1.8" stroke-dasharray="3.3,1.94"/>
<circle cx="365.8" cy="655" r="10" fill="#b935bd" stroke="#7a7a7a" stroke-width="1.8" stroke-dasharray="3.3,1.94"/>
<circle cx="393.8" cy="655" r="10" fill="#b935bd" stroke="#7a7a7a" stroke-width="1.8" stroke-dasharray="3.3,1.94"/>
<circle cx="421.8" cy="655" r="10" fill="#ffa200" stroke="#7a7a7a" stroke-width="1.8" stroke-dasharray="3.3,1.94"/>
<circle cx="267.3" cy="655" r="10" fill="#ffa200" stroke="#7a7a7a" stroke-width="1.8" stroke-dasharray="3.3,1.94"/>
<circle cx="309.2" cy="655" r="10" fill="#7d5fc6" stroke="#7a7a7a" stroke-width="1.8" stroke-dasharray="3.3,1.94"/>
<circle cx="493" cy="655" r="9.85" fill="#b2d045" stroke="#7f9f08" stroke-width="3"/>
<circle cx="542" cy="655" r="9.85" fill="#b2d045" stroke="#7f9f08" stroke-width="3"/>
<circle cx="252.5" cy="655" r="9.85" fill="#b2d045" stroke="#7f9f08" stroke-width="3"/>
<circle cx="478.4" cy="655" r="9.85" fill="#b2d045" stroke="#7f9f08" stroke-width="3"/>
<circle cx="527.7" cy="655" r="9.85" fill="#b2d045" stroke="#7f9f08" stroke-width="3"/>
<circle cx="584.4" cy="655" r="9.85" fill="#b2d045" stroke="#7f9f08" stroke-width="3"/>
<circle cx="55" cy="655" r="9.9" fill="#7d5fc6" stroke="#27383f" stroke-width="2.7" stroke-dasharray="3.6,2.4"/>
<circle cx="69.3" cy="706" r="9.85" fill="#b2d045" stroke="#7f9f08" stroke-width="3"/>
<circle cx="82.7" cy="706" r="9.85" fill="#b2d045" stroke="#7f9f08" stroke-width="3"/>
<circle cx="110.7" cy="706" r="9.85" fill="#b2d045" stroke="#7f9f08" stroke-width="3"/>
<circle cx="139" cy="706" r="9.85" fill="#b2d045" stroke="#7f9f08" stroke-width="3"/>
<circle cx="182" cy="706" r="9.85" fill="#b2d045" stroke="#7f9f08" stroke-width="3"/>
<circle cx="238.8" cy="706" r="9.85" fill="#b2d045" stroke="#7f9f08" stroke-width="3"/>
<circle cx="295" cy="706" r="9.85" fill="#b2d045" stroke="#7f9f08" stroke-width="3"/>
<circle cx="337.6" cy="706" r="9.85" fill="#b2d045" stroke="#7f9f08" stroke-width="3"/>
<circle cx="365.8" cy="706" r="9.85" fill="#b2d045" stroke="#7f9f08" stroke-width="3"/>
<circle cx="393.8" cy="706" r="9.85" fill="#b2d045" stroke="#7f9f08" stroke-width="3"/>
<circle cx="450.4" cy="706" r="9.85" fill="#b2d045" stroke="#7f9f08" stroke-width="3"/>
<circle cx="613" cy="706" r="9.85" fill="#b2d045" stroke="#7f9f08" stroke-width="3"/>
<circle cx="153.3" cy="706" r="9.85" fill="#b2d045" stroke="#7f9f08" stroke-width="3"/>
<circle cx="224.7" cy="706" r="9.85" fill="#b2d045" stroke="#7f9f08" stroke-width="3"/>
<circle cx="97" cy="706" r="9.85" fill="#b2d045" stroke="#7f9f08" stroke-width="3"/>
<circle cx="125" cy="706" r="9.85" fill="#b2d045" stroke="#7f9f08" stroke-width="3"/>
<circle cx="167.8" cy="706" r="9.85" fill="#b2d045" stroke="#7f9f08" stroke-width="3"/>
<circle cx="210" cy="706" r="9.85" fill="#b2d045" stroke="#7f9f08" stroke-width="3"/>
<circle cx="281.3" cy="706" r="9.85" fill="#b2d045" stroke="#7f9f08" stroke-width="3"/>
<circle cx="309.2" cy="706" r="9.85" fill="#b2d045" stroke="#7f9f08" stroke-width="3"/>
<circle cx="436.2" cy="706" r="9.85" fill="#b2d045" stroke="#7f9f08" stroke-width="3"/>
<circle cx="464.3" cy="706" r="9.85" fill="#b2d045" stroke="#7f9f08" stroke-width="3"/>
<circle cx="267" cy="706" r="9.85" fill="#b2d045" stroke="#7f9f08" stroke-width="3"/>
<circle cx="55" cy="706" r="9.9" fill="#b2d045" stroke="#27383f" stroke-width="2.8"/>
</svg>
  <div id="side">
    <div class="h" style="top:3px;font-size:12px;letter-spacing:0.27px">Prediction path</div>
    <div class="p" style="top:20px">SALE PRICE</div>
    <div class="h" style="top:53px">&lt;= 8,494,578.00</div>
    <div class="p" style="top:71px">SALE PRICE</div>
    <div class="h" style="top:104px">&lt;= 2,233,054.00</div>
    <div class="p" style="top:122px">SALE PRICE</div>
    <div class="h" style="top:155px">&lt;= 1,012,395.00</div>
    <div class="p" style="top:173px">SALE PRICE</div>
    <div class="h" style="top:206px">&lt;= 557,589.00</div>
    <div class="p" style="top:224px">SALE PRICE</div>
    <div class="h" style="top:257px">&lt;= 331,996.00</div>
    <div class="p" style="top:275px">SALE PRICE</div>
    <div class="h" style="top:308px">&lt;= 187,833.00</div>
    <div class="p" style="top:326px">SALE PRICE</div>
    <div class="h" style="top:359px">&gt; 108,683.00</div>
    <div class="p" style="top:377px">SALE PRICE</div>
    <div class="h" style="top:410px">&lt;= 151,865.00</div>
    <div class="p" style="top:428px">SALE PRICE</div>
    <div class="h" style="top:461px">&gt; 128,740.00</div>
    <div class="g" style="top:479px">157,731.28</div>
  </div>
</div>
<svg id="icons" viewBox="0 0 959 781">
<defs>
<radialGradient id="gd" cx="0.4" cy="0.35" r="0.7"><stop offset="0" stop-color="#a9d62a"/><stop offset="1" stop-color="#7fb50e"/></radialGradient>
</defs>
<!-- lock -->
<path d="M29.15,81.5V77.9A3.9,3.9 0 0 1 36.95,77.9V81.5" fill="none" stroke="#a9aeb1" stroke-width="2.1"/>
<rect x="27" y="80.8" width="12.1" height="8.1" rx="0.6" fill="#a9aeb1"/>
<rect x="27" y="88.9" width="12.1" height="1" fill="#fafafa"/>
<rect x="32.2" y="83.7" width="1.7" height="1.4" fill="#e9eaeb"/><rect x="32.2" y="85.8" width="1.7" height="1.3" fill="#e9eaeb"/>
<!-- db + magnifier -->
<path d="M74,76.1A7.95,3.3 0 0 1 89.9,76.1V86.6A7.95,3.3 0 0 1 74,86.6z" fill="#394a55"/>
<ellipse cx="81.95" cy="76.2" rx="6.1" ry="1.8" fill="#e6e8e9"/>
<path d="M74,79.3Q81.95,82.7 89.9,79.3M74,83.7Q81.95,87.1 89.9,83.7" fill="none" stroke="#cfd4d6" stroke-width="1"/>
<g fill="none" stroke="#6f9b00"><circle cx="90.9" cy="73.7" r="3.35" stroke-width="1.5" fill="#ececec"/><path d="M93.6,76.9L97,79.6" stroke-width="2.6" stroke-linecap="round"/></g>
<!-- bars + magnifier -->
<g fill="#3a4a53"><rect x="124.4" y="80.6" width="3.8" height="9" rx="1.6"/><rect x="130.4" y="74.8" width="3.8" height="14.8" rx="1.6"/><rect x="136.3" y="78.8" width="3.8" height="10.8" rx="1.6"/></g>
<g fill="none" stroke="#6f9b00"><circle cx="138.5" cy="73.7" r="3.35" stroke-width="1.5" fill="#ececec"/><path d="M141.2,76.9L144.8,79.7" stroke-width="2.6" stroke-linecap="round"/></g>
<!-- config -->
<g fill="none" stroke="#b3b8bb" stroke-width="1.5"><rect x="173.8" y="75.6" width="14.6" height="14.6"/></g>
<g fill="#b3b8bb"><rect x="176" y="79" width="10.4" height="1.7"/><rect x="176" y="84.8" width="10.4" height="1.7"/><rect x="177.6" y="77.6" width="4" height="4.4" rx="1.8"/><rect x="180.2" y="83.4" width="4" height="4.4" rx="1.8"/></g>
<!-- green dots -->
<g fill="url(#gd)"><circle cx="227.2" cy="81.6" r="3.5"/><circle cx="237" cy="81.6" r="3.5"/><circle cx="246.9" cy="81.6" r="3.5"/><circle cx="256.7" cy="81.6" r="3.5"/></g>
<!-- tree icon -->
<g transform="translate(0,1.2)">
<g fill="none" stroke="#f7f7f7" stroke-width="2.8"><path d="M313.4,70L301.2,77.6L299.8,91.5M313.4,70L323.9,78.4L325,91.5M301.2,77.6Q311,80 313.4,91.5"/></g>
<g fill="#f7f7f7"><circle cx="313.4" cy="70" r="4.3"/><circle cx="301.2" cy="77.6" r="4.3"/><circle cx="323.9" cy="78.4" r="4.3"/><circle cx="299.8" cy="91.5" r="4.3"/><circle cx="313.4" cy="91.5" r="4.3"/><circle cx="325" cy="91.5" r="4.3"/></g>
</g>
<g fill="none" stroke="#d9dcdd" stroke-width="2.8"><path d="M313.4,70L301.2,77.6L299.8,91.5M313.4,70L323.9,78.4L325,91.5M301.2,77.6Q311,80 313.4,91.5"/></g>
<g fill="#d9dcdd"><circle cx="313.4" cy="70" r="4.3"/><circle cx="301.2" cy="77.6" r="4.3"/><circle cx="323.9" cy="78.4" r="4.3"/><circle cx="299.8" cy="91.5" r="4.3"/><circle cx="313.4" cy="91.5" r="4.3"/><circle cx="325" cy="91.5" r="4.3"/></g>
<!-- cloud download -->
<path d="M820.6,85.9A4.3,4.3 0 1 1 821,78A4.3,4.3 0 1 1 829.2,78A4.3,4.3 0 1 1 829.6,85.9" fill="none" stroke="#36464f" stroke-width="3"/>
<path d="M821.9,80h6v7h2.6l-5.5,6.3l-5.4,-6.3h2.3z" fill="#6a9000" stroke="#f2f2f2" stroke-width="0.8" paint-order="stroke"/>
<!-- cloud bolt -->
<g fill="none" stroke="#36464f" stroke-width="3"><path d="M872.6,85.2A4.8,4.8 0 1 1 868.7,76.8A4.2,4.2 0 0 1 876,75"/><path d="M881.5,78A4.9,4.9 0 1 1 876.2,85.8"/></g>
<path d="M877.4,71.4L882.1,71L878.7,77.1L883.9,77.1L873.2,90.7L876.9,81L873,80.2z" fill="#6f9b00" stroke="#ececec" stroke-width="0.9" paint-order="stroke"/>
<path d="M887.1,83h7.9l-3.95,3.9z" fill="#64757f"/>
<!-- info -->
<circle cx="924.7" cy="80" r="8.4" fill="none" stroke="#36464f" stroke-width="2.7"/>
<rect x="922.9" y="77.6" width="3.6" height="7.6" fill="#6b9a06"/><rect x="922.9" y="73.6" width="3.6" height="2.8" fill="#6b9a06"/>
<!-- button glyphs -->
<g fill="#fafafa" stroke="#1f2f3a" stroke-width="1">
<circle cx="33.5" cy="124.3" r="2.15"/><circle cx="40" cy="124.3" r="2.15"/><circle cx="46.5" cy="124.3" r="2.15"/>
<circle cx="33.5" cy="130.4" r="2.15"/><circle cx="46.5" cy="130.4" r="2.15"/>
<circle cx="33.5" cy="136.6" r="2.15"/><circle cx="40" cy="136.6" r="2.15"/><circle cx="46.5" cy="136.6" r="2.15"/>
<circle cx="80" cy="130.4" r="2"/>
</g>
<g fill="#1f2f3a">
<circle cx="40" cy="130.4" r="2.65"/>
<circle cx="73.6" cy="124.3" r="2.65"/><circle cx="80" cy="124.3" r="2.65"/><circle cx="86.4" cy="124.3" r="2.65"/>
<circle cx="73.6" cy="130.4" r="2.65"/><circle cx="86.4" cy="130.4" r="2.65"/>
<circle cx="73.6" cy="136.6" r="2.65"/><circle cx="80" cy="136.6" r="2.65"/><circle cx="86.4" cy="136.6" r="2.65"/>
</g>
<!-- refresh -->
<g fill="none" stroke="#1f2f3a" stroke-width="4.1"><path d="M113.95,130.6A6.45,6.45 0 0 1 125.6,126.6"/><path d="M126.85,131.4A6.45,6.45 0 0 1 115.2,135.4"/></g>
<path d="M129,123.4V129.3H122.9z" fill="#1f2f3a"/><path d="M111.9,138.5V132.7H118z" fill="#1f2f3a"/>
<!-- dropdown circle -->
<circle cx="915.5" cy="131.2" r="6" fill="#f4f4f4" stroke="#4c4c4c" stroke-width="1.3"/>
<path d="M911.8,128.8h7.4l-3.7,5.2z" fill="#6f9a08"/>
<!-- bubble pointer -->
<path d="M727.5,124.5L719.5,130.2L727.5,136" fill="#e7e7e7" stroke="#fff" stroke-width="2" stroke-linejoin="round"/>
</svg>


</body>
</html>
